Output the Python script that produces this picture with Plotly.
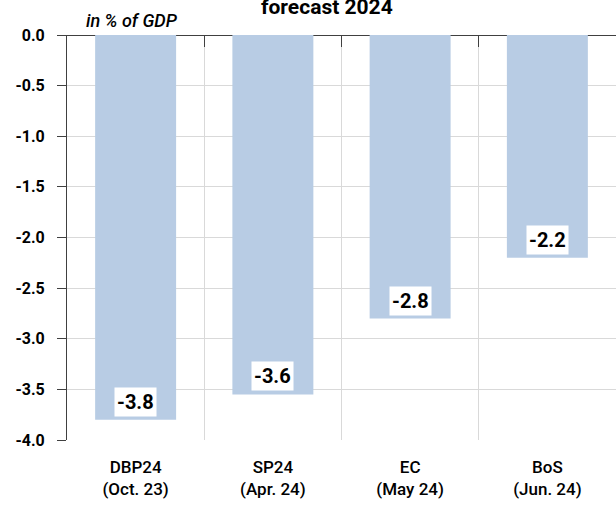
import plotly.graph_objects as go

categories = ["DBP24<br>(Oct. 23)", "SP24<br>(Apr. 24)", "EC<br>(May 24)", "BoS<br>(Jun. 24)"]
values = [-3.8, -3.55, -2.8, -2.2]
labels = ["-3.8", "-3.6", "-2.8", "-2.2"]
y_ticks = [0.0, -0.5, -1.0, -1.5, -2.0, -2.5, -3.0, -3.5, -4.0]
title_text = "forecast 2024"
unit_text = "in % of GDP"

FONT = "Roboto, Liberation Sans Narrow, sans-serif"
BAR = "#B8CCE4"
GRID = "#D9D9D9"
DARK = "#404040"

fig = go.Figure()
fig.add_trace(go.Bar(x=categories, y=values, marker=dict(color=BAR, line=dict(width=0)),
                     hoverinfo="skip", showlegend=False))
# invisible trace to activate top decoration axis
fig.add_trace(go.Scatter(x=categories, y=[None] * len(categories), xaxis="x2", yaxis="y",
                         mode="markers", showlegend=False, hoverinfo="skip"))

for c, v, t in zip(categories, values, labels):
    fig.add_annotation(x=c, y=v, xref="x", yref="y", text=t, showarrow=False,
                       yanchor="bottom", yshift=3, bgcolor="white", borderpad=2,
                       font=dict(family=FONT, size=20, color="black", weight="bold"))

fig.add_annotation(xref="paper", yref="paper", x=0.474, y=1, yanchor="bottom", yshift=14,
                   text="<b>" + title_text + "</b>", showarrow=False,
                   font=dict(family=FONT, size=21, color="black"))
fig.add_annotation(xref="paper", yref="paper", x=0.031, y=1, xanchor="left", yanchor="middle",
                   yshift=15, text="<i>" + unit_text + "</i>", showarrow=False,
                   font=dict(family=FONT, size=18, color="black", weight=500))

fig.update_layout(
    width=616, height=507,
    margin=dict(l=67, r=0, t=35, b=67),
    paper_bgcolor="white", plot_bgcolor="white",
    bargap=0.41,
    xaxis=dict(type="category", tickson="boundaries", showgrid=True, gridcolor=GRID, gridwidth=1,
               ticks="", showline=False, zeroline=False,
               tickfont=dict(family=FONT, size=17, color="black", weight=500), ticklabelstandoff=15),
    xaxis2=dict(type="category", overlaying="x", side="top", anchor="y", matches="x",
                tickson="boundaries", ticks="inside", ticklen=12, tickcolor=DARK, tickwidth=1,
                showticklabels=False, showgrid=False, showline=False, zeroline=False),
    yaxis=dict(range=[-4.0, 0.0], tickvals=y_ticks, ticktext=[f"{v:.1f}" for v in y_ticks],
               showgrid=True, gridcolor=GRID, gridwidth=1,
               ticks="outside", ticklen=9, tickcolor=DARK, tickwidth=1,
               showline=True, linecolor=DARK, linewidth=1,
               zeroline=True, zerolinecolor=DARK, zerolinewidth=1,
               tickfont=dict(family=FONT, size=16, color="black", weight="bold"),
               ticklabelstandoff=9),
)

fig.write_html("out.html")
